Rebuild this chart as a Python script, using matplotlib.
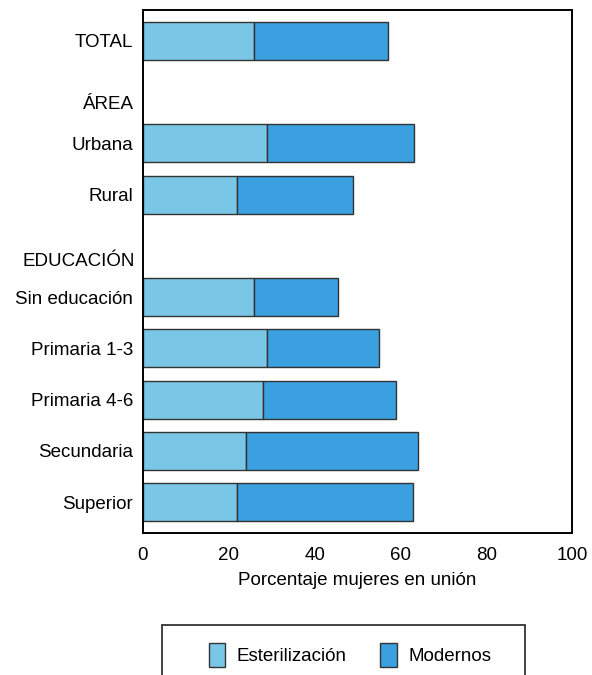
import matplotlib
matplotlib.use('Agg')
import matplotlib.pyplot as plt
from matplotlib.patches import Patch, Rectangle

plt.rcParams['font.family'] = ['Liberation Sans', 'DejaVu Sans']

# rows of the chart (slot index from top)
categories = ['TOTAL', 'Urbana', 'Rural', 'Sin educación',
              'Primaria 1-3', 'Primaria 4-6', 'Secundaria', 'Superior']
slots = [0, 2, 3, 5, 6, 7, 8, 9]
headers = ['ÁREA', 'EDUCACIÓN']
header_slots = [1.25, 4.3]

esterilizacion = [25.8, 29.0, 21.8, 25.8, 29.0, 27.9, 23.9, 22.0]
total = [57.0, 63.1, 49.0, 45.4, 55.1, 58.9, 64.2, 62.9]
modernos = [t - e for t, e in zip(total, esterilizacion)]

c_light = '#7ac6e6'
c_dark = '#3aa0e0'
edge = '#333333'
fs = 13.5

fig = plt.figure(figsize=(5.92, 6.75), dpi=100)
ax = fig.add_axes([143/592, 1 - 533/675, (572-143)/592, (533-10)/675])

ax.barh(slots, esterilizacion, height=0.74, color=c_light, edgecolor=edge, linewidth=1.0)
ax.barh(slots, modernos, left=esterilizacion, height=0.74, color=c_dark, edgecolor=edge, linewidth=1.0)

ax.set_xlim(0, 100)
ax.set_ylim(9.6, -0.6)
ax.set_xticks([0, 20, 40, 60, 80, 100])
ax.set_yticks(slots)
ax.set_yticklabels(categories)
ax.tick_params(length=0, labelsize=fs, pad=7)
ax.tick_params(axis='x', pad=10)
for lab, ys in zip(headers, header_slots):
    ax.text(-0.02, ys, lab, transform=ax.get_yaxis_transform(), ha='right', va='center', fontsize=fs)
for s in ax.spines.values():
    s.set_linewidth(1.4)
ax.set_xlabel('Porcentaje mujeres en unión', fontsize=fs, labelpad=6)

# legend box, cut off at the bottom of the image
fig.patches.append(Rectangle((162/592, -0.02), (525-162)/592, (675-625)/675 + 0.02,
                             transform=fig.transFigure, fill=False, edgecolor='#222222', linewidth=1.2))
handles = [Patch(facecolor=c_light, edgecolor=edge, label='Esterilización'),
           Patch(facecolor=c_dark, edgecolor=edge, label='Modernos')]
fig.legend(handles=handles, loc='center', bbox_to_anchor=(350/592, 1 - 655/675), ncol=2,
           frameon=False, fontsize=fs, handlelength=0.9, handleheight=1.6, columnspacing=1.8,
           handletextpad=0.6)

fig.savefig('out.png', dpi=100)
